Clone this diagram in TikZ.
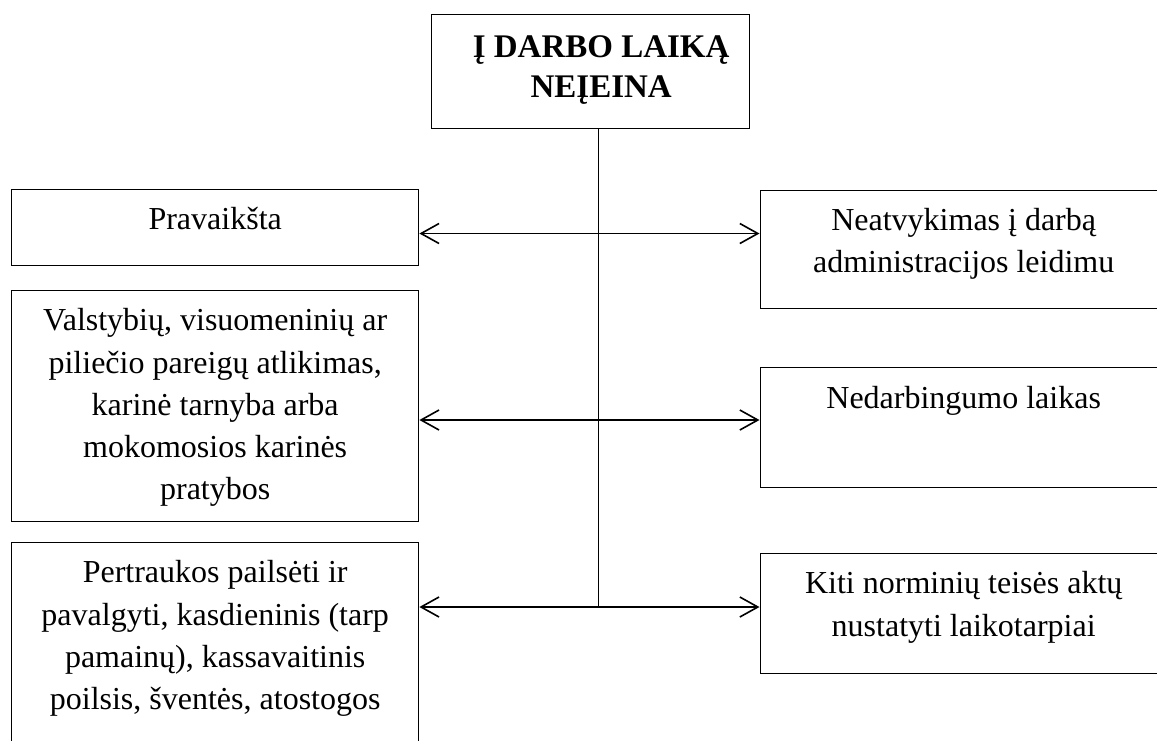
\documentclass[tikz,border=0pt]{standalone}
\usepackage{fontspec}
\setmainfont{Liberation Serif}
\usetikzlibrary{arrows.meta}
\newcommand{\bx}[4]{\parbox[c][#2][t]{#1}{\centering\rule{0pt}{#3}#4\par}}
\tikzset{
  box/.style={draw, line width=1.4pt, inner sep=0pt, anchor=north west},
  body/.style={font=\fontsize{32}{42.3}\selectfont},
  spine/.style={line width=1.6pt},
  arr/.style={line width=1.6pt, {Straight Barb[length=18pt,width=20pt,line width=1.6pt]}-{Straight Barb[length=18pt,width=20pt,line width=1.6pt]}}
}
\begin{document}
\begin{tikzpicture}[x=1pt,y=-1pt]
\useasboundingbox (0,0) rectangle (1157,740);
% top box
\node[box, font=\bfseries\fontsize{33}{40}\selectfont] (top) at (431,14)
  {\parbox[c][114pt][t]{318pt}{\centering\leftskip=21pt plus 1fil\rule{0pt}{43pt}Į DARBO LAIKĄ\\NEĮEINA\par}};
% left boxes
\node[box, body] (L1) at (11,189) {\bx{407pt}{76pt}{39.5pt}{Pravaikšta}};
\node[box, body] (L2) at (11,290) {\bx{407pt}{231pt}{40pt}{Valstybių, visuomeninių ar\\piliečio pareigų atlikimas,\\karinė tarnyba arba\\mokomosios karinės\\pratybos}};
\node[box, body] (L3) at (11,541.5) {\bx{407pt}{220pt}{40.5pt}{Pertraukos pailsėti ir\\pavalgyti, kasdieninis (tarp\\pamainų), kassavaitinis\\poilsis, šventės, atostogos}};
% right boxes
\node[box, body] (R1) at (759.5,190) {\bx{407pt}{118pt}{39.5pt}{Neatvykimas į darbą\\administracijos leidimu}};
\node[box, body] (R2) at (759.5,367) {\bx{407pt}{120pt}{41pt}{Nedarbingumo laikas}};
\node[box, body] (R3) at (759.5,553) {\bx{407pt}{120pt}{40pt}{Kiti norminių teisės aktų\\nustatyti laikotarpiai}};
% connectors
\coordinate (j1) at (598.5,233.5);
\coordinate (j2) at (598.5,420);
\coordinate (j3) at (598.5,607);
\draw[spine] (top.south -| j3) -- (j3);
\draw[arr] (L1.east |- j1) -- (R1.west |- j1);
\draw[arr] (L2.east |- j2) -- (R2.west |- j2);
\draw[arr] (L3.east |- j3) -- (R3.west |- j3);
\end{tikzpicture}
\end{document}
